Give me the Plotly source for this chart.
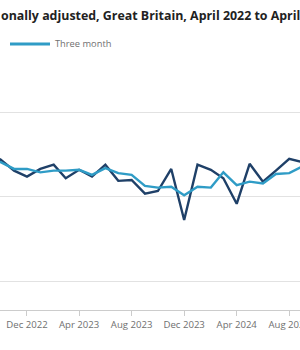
import plotly.graph_objects as go

months = ["2022-09-01", "2022-10-01", "2022-11-01", "2022-12-01",
          "2023-01-01", "2023-02-01", "2023-03-01", "2023-04-01",
          "2023-05-01", "2023-06-01", "2023-07-01", "2023-08-01",
          "2023-09-01", "2023-10-01", "2023-11-01", "2023-12-01",
          "2024-01-01", "2024-02-01", "2024-03-01", "2024-04-01",
          "2024-05-01", "2024-06-01", "2024-07-01", "2024-08-01",
          "2024-09-01", "2024-10-01"]

monthly = [102.6, 104.4, 103.1, 102.4, 103.3, 103.8, 102.2, 103.2,
           102.4, 103.8, 101.9, 102.0, 100.4, 100.7, 103.3, 97.3,
           103.8, 103.2, 102.2, 99.2, 103.9, 101.8, 103.1, 104.5,
           104.1, 103.2]

three_month = [104.4, 104.1, 103.3, 103.3, 102.9, 103.1, 103.1, 103.2,
               102.6, 103.4, 102.8, 102.6, 101.3, 101.1, 101.2, 100.2,
               101.2, 101.1, 102.9, 101.4, 101.8, 101.6, 102.7, 102.8,
               103.6, 104.0]

title_text = "onally adjusted, Great Britain, April 2022 to April 2025"
legend_label = "Three month"

DARK = "#1f4068"
LIGHT = "#2f9cc6"
FONT = "Open Sans"

fig = go.Figure()
fig.add_trace(go.Scatter(x=months, y=monthly, mode="lines", name="Monthly",
                         line=dict(color=DARK, width=2.4)))
fig.add_trace(go.Scatter(x=months, y=three_month, mode="lines", name=legend_label,
                         line=dict(color=LIGHT, width=2.4)))

fig.update_layout(
    width=300, height=350,
    margin=dict(l=0, r=0, t=95, b=40, autoexpand=False),
    paper_bgcolor="white", plot_bgcolor="white",
    showlegend=False,
    font=dict(family=FONT, color="#707070", size=9.5),
    xaxis=dict(
        type="date",
        range=["2022-09-29 08:00", "2024-08-26"],
        tick0="2022-12-01", dtick="M4", tickformat="%b %Y",
        ticks="outside", ticklen=5, tickcolor="#cccccc",
        showline=True, linecolor="#cccccc", linewidth=1,
        showgrid=False, zeroline=False,
        ticklabeloverflow="allow",
        tickfont=dict(family=FONT, size=9.6, color="#707070"),
    ),
    yaxis=dict(
        range=[86.7, 112.0], tick0=90, dtick=10,
        showgrid=True, gridcolor="#e2e2e2", gridwidth=1,
        zeroline=False, showticklabels=False, showline=False,
    ),
)

fig.add_annotation(xref="paper", yref="paper", x=-0.002, y=1 + (95 - 15) / 215,
                   xanchor="left", yanchor="middle", showarrow=False,
                   text="<b>" + title_text + "</b>",
                   font=dict(family=FONT, size=12.4, color="#222222"))

# legend key
fig.add_shape(type="line", xref="paper", yref="paper",
              x0=10 / 300, x1=50 / 300, y0=1 + (95 - 44) / 215, y1=1 + (95 - 44) / 215,
              line=dict(color=LIGHT, width=3))
fig.add_annotation(xref="paper", yref="paper", x=53 / 300, y=1 + (95 - 44) / 215,
                   xanchor="left", yanchor="middle", showarrow=False,
                   text=legend_label,
                   font=dict(family=FONT, size=9.3, color="#707070"))

fig.write_html("out.html")
